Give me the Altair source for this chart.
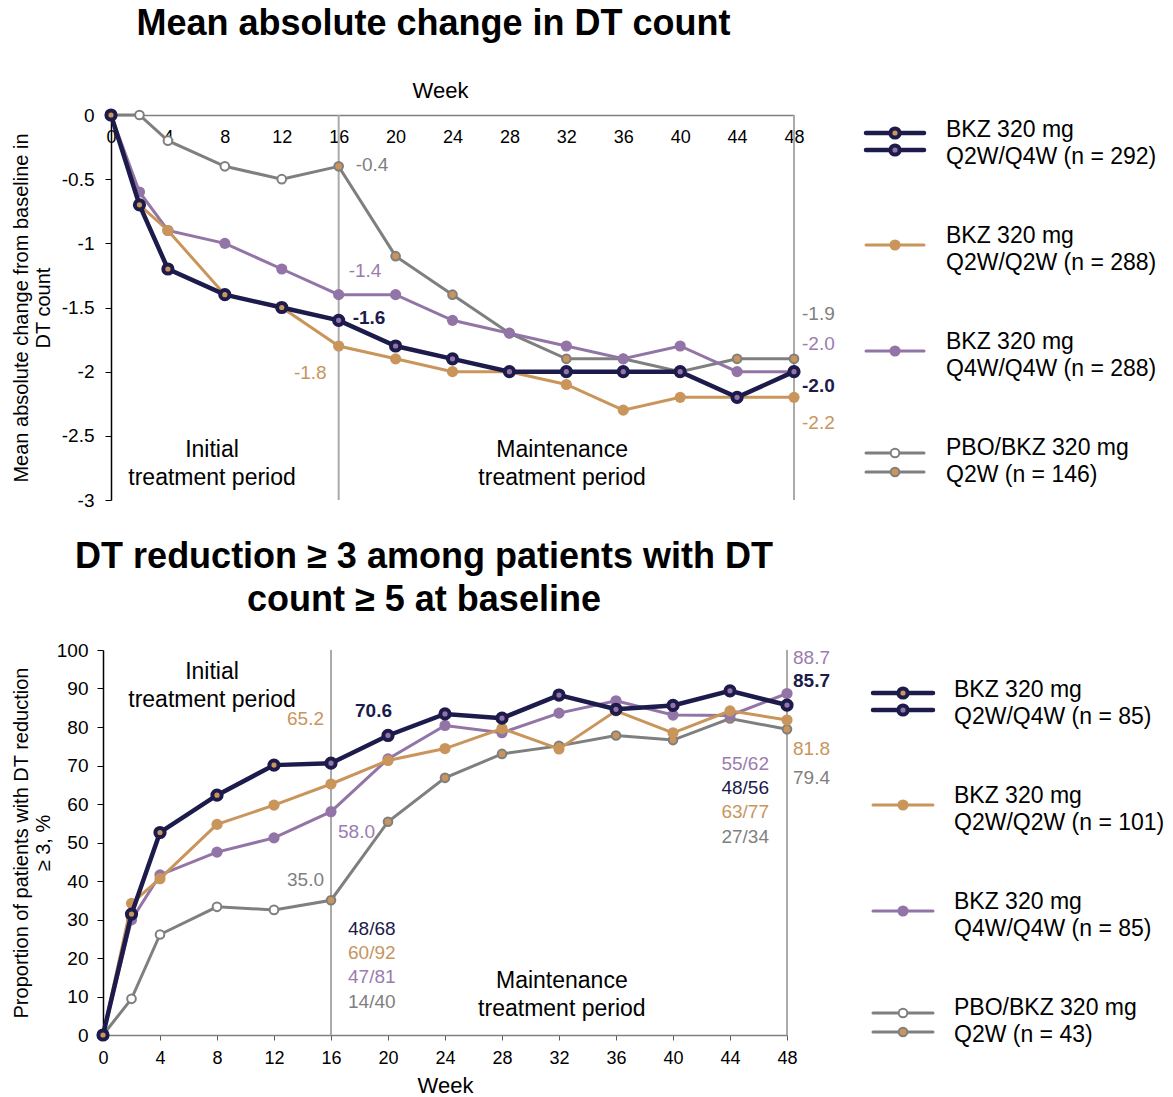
import altair as alt
import pandas as pd

FONT = "Liberation Sans"

# ---------------------------------------------------------------- data
weeks = [0, 2, 4, 8, 12, 16, 20, 24, 28, 32, 36, 40, 44, 48]

# Mean absolute change from baseline in DT count
chg_q2w_q4w = [0, -0.7, -1.2, -1.4, -1.5, -1.6, -1.8, -1.9, -2.0, -2.0, -2.0, -2.0, -2.2, -2.0]
chg_q2w_q2w = [0, -0.7, -0.9, -1.4, -1.5, -1.8, -1.9, -2.0, -2.0, -2.1, -2.3, -2.2, -2.2, -2.2]
chg_q4w_q4w = [0, -0.6, -0.9, -1.0, -1.2, -1.4, -1.4, -1.6, -1.7, -1.8, -1.9, -1.8, -2.0, -2.0]
chg_pbo = [0, 0.0, -0.2, -0.4, -0.5, -0.4, -1.1, -1.4, -1.7, -1.9, -1.9, -2.0, -1.9, -1.9]

# Patients with DT reduction >= 3 among those with DT count >= 5 at baseline (%)
red_q2w_q4w = [0, 31.4, 52.6, 62.3, 70.1, 70.6, 77.8, 83.4, 82.3, 88.3, 84.6, 85.6, 89.4, 85.7]
red_q2w_q2w = [0, 34.2, 40.6, 54.7, 59.7, 65.2, 71.3, 74.4, 79.6, 74.3, 84.2, 78.5, 84.2, 81.8]
red_q4w_q4w = [0, 29.9, 41.6, 47.5, 51.2, 58.0, 71.7, 80.4, 78.5, 83.6, 86.8, 83.1, 83.0, 88.7]
red_pbo = [0, 9.4, 26.1, 33.3, 32.5, 35.0, 55.4, 66.8, 73.0, 75.1, 77.8, 76.6, 82.2, 79.4]

arms = ["Q2W/Q4W", "Q2W/Q2W", "Q4W/Q4W", "PBO"]
arm_names = ["BKZ 320 mg\nQ2W/Q4W", "BKZ 320 mg\nQ2W/Q2W", "BKZ 320 mg\nQ4W/Q4W", "PBO/BKZ 320 mg\nQ2W"]
n_change = [292, 288, 288, 146]
n_reduction = [85, 101, 85, 43]

# responders / evaluable patients, per arm (same order as `arms`)
frac_wk16 = ["48/68", "60/92", "47/81", "14/40"]
frac_wk48 = ["48/56", "63/77", "55/62", "27/34"]

period_bounds = [16, 48]
week_ticks = list(range(0, 49, 4))

# ---------------------------------------------------------------- styling
NAVY, ORANGE, PURPLE, GREY = "#1C1B4B", "#C9955B", "#9275A6", "#7F7F7F"
ARM_COLOR = {"Q2W/Q4W": NAVY, "Q2W/Q2W": ORANGE, "Q4W/Q4W": PURPLE, "PBO": GREY}
LABEL_COLOR = {"Q2W/Q4W": NAVY, "Q2W/Q2W": "#C8955E", "Q4W/Q4W": "#9B7CB0", "PBO": "#7F7F7F"}
DOSE_FILL = alt.Scale(domain=["Q2W", "Q4W", "PBO"], range=[ORANGE, PURPLE, "#FFFFFF"])
DRAW_ORDER = ["PBO", "Q4W/Q4W", "Q2W/Q2W", "Q2W/Q4W"]
MARK = {
    "Q2W/Q4W": dict(lw=4.5, size=85, stroke=NAVY, sw=4),
    "Q2W/Q2W": dict(lw=3, size=125, stroke=ORANGE, sw=0),
    "Q4W/Q4W": dict(lw=3, size=125, stroke=PURPLE, sw=0),
    "PBO": dict(lw=3, size=75, stroke=GREY, sw=2),
}
RULE_GREY = "#AAAAAA"


def dose_at(arm, week):
    """Dose regimen received at a visit; decides the marker fill."""
    if arm == "Q2W/Q4W":
        return "Q2W" if week < 16 else "Q4W"
    if arm == "PBO":
        return "PBO" if week < 16 else "Q2W"
    return "Q2W" if arm == "Q2W/Q2W" else "Q4W"


def arm_frame(arm, values):
    return pd.DataFrame({"week": weeks, "value": values,
                         "dose": [dose_at(arm, w) for w in weeks]})


def text_layer(df, color, size=19, weight="normal", align="left", dx=0, dy=0, line_height=None):
    kw = dict(font=FONT, fontSize=size, fontWeight=weight, color=color,
              align=align, baseline="middle", dx=dx, dy=dy)
    if line_height:
        kw.update(lineBreak="\n", lineHeight=line_height)
    return alt.Chart(df).mark_text(**kw)


def panel(series, x_enc, y_enc, value_labels, extra_texts, title):
    layers = [alt.Chart(pd.DataFrame({"week": period_bounds}))
              .mark_rule(color=RULE_GREY, strokeWidth=2)
              .encode(x=x_enc)]
    for arm in DRAW_ORDER:
        df = arm_frame(arm, series[arm])
        st = MARK[arm]
        base = alt.Chart(df)
        layers.append(base.mark_line(color=ARM_COLOR[arm], strokeWidth=st["lw"])
                      .encode(x=x_enc, y=y_enc))
        layers.append(base.mark_point(shape="circle", filled=True, opacity=1,
                                      size=st["size"], stroke=st["stroke"],
                                      strokeWidth=st["sw"])
                      .encode(x=x_enc, y=y_enc,
                              fill=alt.Fill("dose:N", scale=DOSE_FILL, legend=None)))
    # value call-outs, drawn at the visit they describe
    for arm, wk, align, dx, dy in value_labels:
        v = series[arm][weeks.index(wk)]
        df = pd.DataFrame({"week": [wk], "value": [v], "label": [f"{v:.1f}"]})
        layers.append(text_layer(df, LABEL_COLOR[arm],
                                 weight="bold" if arm == "Q2W/Q4W" else "normal",
                                 align=align, dx=dx, dy=dy)
                      .encode(x=x_enc, y=y_enc, text="label:N"))
    layers.extend(extra_texts)
    return alt.layer(*layers, title=title)


# ---------------------------------------------------------------- top panel
x_top = alt.X("week:Q", scale=alt.Scale(domain=[0, 48], nice=False, zero=False),
              axis=alt.Axis(orient="top", values=week_ticks, title="Week",
                            titleFont=FONT, titleFontSize=22, titleFontWeight="normal",
                            titleColor="#000000", titleBaseline="middle", titleY=-25,
                            titleX=329, titleAlign="center",
                            labelFont=FONT, labelFontSize=18, labelColor="#000000",
                            labelBaseline="top", labelPadding=-13, labelFlush=False,
                            labelOverlap=False, tickSize=0,
                            domainColor="#808080", domainWidth=1.5, grid=False))
y_top = alt.Y("value:Q", scale=alt.Scale(domain=[-3, 0], nice=False, zero=False),
              axis=alt.Axis(values=[-3, -2.5, -2, -1.5, -1, -0.5, 0],
                            labelExpr="datum.value == 0 ? '0' : '-' + abs(datum.value)",
                            title=["Mean absolute change from baseline in", "DT count"],
                            titleFont=FONT, titleFontSize=20, titleFontWeight="normal",
                            titleColor="#000000", titlePadding=8,
                            labelFont=FONT, labelFontSize=19, labelColor="#000000",
                            labelPadding=11, tickSize=6, tickColor="#000000",
                            domainColor="#000000", domainWidth=1.5, grid=False))

top_value_labels = [
    ("PBO", 16, "left", 17, -1),
    ("Q4W/Q4W", 16, "left", 10, -24),
    ("Q2W/Q4W", 16, "left", 14, -2),
    ("Q2W/Q2W", 16, "right", -12, 27),
    ("PBO", 48, "left", 8, -45),
    ("Q4W/Q4W", 48, "left", 8, -28),
    ("Q2W/Q4W", 48, "left", 8, 14),
    ("Q2W/Q2W", 48, "left", 8, 26),
]
top_periods = pd.DataFrame({"week": [7.1, 31.7], "value": [-2.72, -2.72],
                            "label": ["Initial\ntreatment period",
                                      "Maintenance\ntreatment period"]})
top_extra = [text_layer(top_periods, "#000000", size=23, align="center", dy=-14,
                        line_height=28)
             .encode(x=x_top, y=y_top, text="label:N")]

top_chart = panel(
    {"Q2W/Q4W": chg_q2w_q4w, "Q2W/Q2W": chg_q2w_q2w, "Q4W/Q4W": chg_q4w_q4w, "PBO": chg_pbo},
    x_top, y_top, top_value_labels, top_extra,
    alt.TitleParams("Mean absolute change in DT count", font=FONT, fontSize=36,
                    fontWeight="bold", color="#000000", anchor="middle", offset=36, dx=-19),
).properties(width=683, height=385)

# ---------------------------------------------------------------- bottom panel
x_bot = alt.X("week:Q", scale=alt.Scale(domain=[0, 48], nice=False, zero=False),
              axis=alt.Axis(values=week_ticks, title="Week",
                            titleFont=FONT, titleFontSize=22, titleFontWeight="normal",
                            titleColor="#000000", titlePadding=8,
                            labelFont=FONT, labelFontSize=18, labelColor="#000000",
                            labelPadding=9, labelFlush=False, labelOverlap=False,
                            tickSize=5, tickColor="#595959",
                            domainColor="#808080", domainWidth=1.5, grid=False))
y_bot = alt.Y("value:Q", scale=alt.Scale(domain=[0, 100], nice=False),
              axis=alt.Axis(values=list(range(0, 101, 10)),
                            title=["Proportion of patients with DT reduction", "≥ 3, %"],
                            titleFont=FONT, titleFontSize=20, titleFontWeight="normal",
                            titleColor="#000000", titlePadding=3,
                            labelFont=FONT, labelFontSize=19, labelColor="#000000",
                            labelPadding=9, tickSize=6, tickColor="#000000",
                            domainColor="#000000", domainWidth=1.5, grid=False))

bot_value_labels = [
    ("Q2W/Q4W", 16, "left", 24, -52),
    ("Q2W/Q2W", 16, "right", -7, -65),
    ("Q4W/Q4W", 16, "left", 7, 20),
    ("PBO", 16, "right", -7, -20),
    ("Q4W/Q4W", 48, "left", 6, -36),
    ("Q2W/Q4W", 48, "left", 6, -24),
    ("Q2W/Q2W", 48, "left", 6, 29),
    ("PBO", 48, "left", 6, 49),
]
# where each arm's count sits in the stacked count blocks (axis units)
frac_y16 = [27.5, 21.3, 15.1, 8.6]
frac_y48 = [64.2, 57.9, 70.4, 51.4]
bot_extra = []
for arm, f16, y16, f48, y48 in zip(arms, frac_wk16, frac_y16, frac_wk48, frac_y48):
    bot_extra.append(text_layer(pd.DataFrame({"week": [16], "value": [y16], "label": [f16]}),
                                LABEL_COLOR[arm], align="left", dx=17)
                     .encode(x=x_bot, y=y_bot, text="label:N"))
    bot_extra.append(text_layer(pd.DataFrame({"week": [48], "value": [y48], "label": [f48]}),
                                LABEL_COLOR[arm], align="right", dx=-18)
                     .encode(x=x_bot, y=y_bot, text="label:N"))
bot_periods = pd.DataFrame({"week": [7.65, 32.2], "value": [90.6, 10.4],
                            "label": ["Initial\ntreatment period",
                                      "Maintenance\ntreatment period"]})
bot_extra.append(text_layer(bot_periods, "#000000", size=23, align="center", dy=-14,
                            line_height=28)
                 .encode(x=x_bot, y=y_bot, text="label:N"))

bot_chart = panel(
    {"Q2W/Q4W": red_q2w_q4w, "Q2W/Q2W": red_q2w_q2w, "Q4W/Q4W": red_q4w_q4w, "PBO": red_pbo},
    x_bot, y_bot, bot_value_labels, bot_extra,
    alt.TitleParams(["DT reduction ≥ 3 among patients with DT", "count ≥ 5 at baseline"],
                    font=FONT, fontSize=36, fontWeight="bold", color="#000000",
                    anchor="middle", offset=22, dx=-21, lineHeight=43),
).properties(width=684, height=385)


# ---------------------------------------------------------------- legends
def legend_panel(n_values, first_px, step_px, seg, dot_x, text_x, width):
    lo = -first_px / step_px
    hi = (385 - first_px) / step_px
    y = alt.Y("slot:Q", scale=alt.Scale(domain=[lo, hi], reverse=True, nice=False, zero=False),
              axis=None)
    # symbol rows: (arm, marker dose, vertical nudge in px)
    symbols = [("Q2W/Q4W", "Q2W", -11), ("Q2W/Q4W", "Q4W", 6),
               ("Q2W/Q2W", "Q2W", -5), ("Q4W/Q4W", "Q4W", -5),
               ("PBO", "PBO", -9), ("PBO", "Q2W", 10)]
    layers = []
    for arm, dose, nudge in symbols:
        df = pd.DataFrame({"slot": [arms.index(arm)], "dose": [dose]})
        st = MARK[arm]
        layers.append(alt.Chart(df).mark_rule(color=ARM_COLOR[arm], strokeWidth=st["lw"],
                                              yOffset=nudge, strokeCap="round")
                      .encode(x=alt.value(seg[0]), x2=alt.value(seg[1]), y=y))
        layers.append(alt.Chart(df).mark_point(shape="circle", filled=True, opacity=1,
                                               size=st["size"], stroke=st["stroke"],
                                               strokeWidth=st["sw"], yOffset=nudge)
                      .encode(x=alt.value(dot_x), y=y,
                              fill=alt.Fill("dose:N", scale=DOSE_FILL, legend=None)))
    labels = pd.DataFrame({"slot": list(range(len(arms))),
                           "label": [f"{name} (n = {n})" for name, n in zip(arm_names, n_values)]})
    layers.append(alt.Chart(labels).mark_text(font=FONT, fontSize=23, color="#000000",
                                              align="left", baseline="middle", dy=-14,
                                              lineBreak="\n", lineHeight=27)
                  .encode(x=alt.value(text_x), y=y, text="label:N"))
    return alt.layer(*layers).properties(width=width, height=385)


top_legend = legend_panel(n_change, 29, 106, (72, 130), 101, 152, 367)
bot_legend = legend_panel(n_reduction, 54, 106, (86, 146), 116, 167, 380)

# narrow empty column that indents the upper panel a little
indent = (alt.Chart(pd.DataFrame({"t": [""]})).mark_text()
          .encode(text="t:N").properties(width=8, height=385))

top_row = alt.hconcat(indent, top_chart, top_legend, spacing=0, bounds="flush")
bot_row = alt.hconcat(bot_chart, bot_legend, spacing=0, bounds="flush")

chart = (
    alt.vconcat(top_row, bot_row, spacing=29)
    .properties(padding={"left": 11, "top": 6, "right": 0, "bottom": 0})
    .configure(font=FONT)
    .configure_view(stroke=None)
)

chart.save("out.html", embed_options={"renderer": "svg", "actions": False})
